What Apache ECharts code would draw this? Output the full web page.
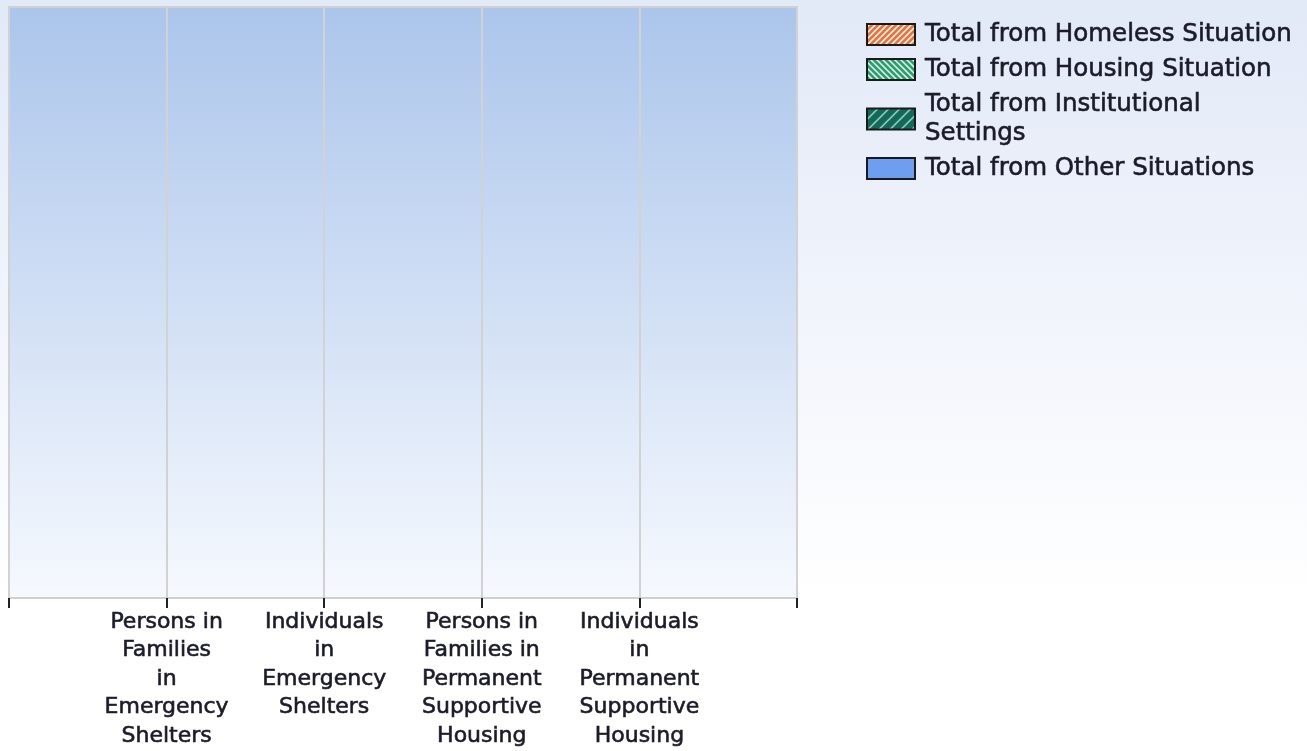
<!DOCTYPE html>
<html>
<head>
<meta charset="utf-8">
<title>Prior living situation</title>
<script src="https://cdn.jsdelivr.net/npm/echarts@6/dist/echarts.min.js"></script>
<style>
  html, body { margin: 0; padding: 0; }
  #chart { width: 1307px; height: 751px; }
</style>
</head>
<body>
<div id="chart"></div>
<script>
// categories (blank slots at both ends keep the wide margins of the original axis)
var categories = [
  '',
  'Persons in\nFamilies\nin\nEmergency\nShelters',
  'Individuals\nin\nEmergency\nShelters',
  'Persons in\nFamilies in\nPermanent\nSupportive\nHousing',
  'Individuals\nin\nPermanent\nSupportive\nHousing',
  ''
];
var seriesNames = [
  'Total from Homeless Situation',
  'Total from Housing Situation',
  'Total from Institutional Settings',
  'Total from Other Situations'
];
// all counts are zero in the picture
var homelessValues = ['-', 0, 0, 0, 0, '-'];
var housingValues = ['-', 0, 0, 0, 0, '-'];
var institutionalValues = ['-', 0, 0, 0, 0, '-'];
var otherValues = ['-', 0, 0, 0, 0, '-'];

// hatch fills
function hatch(bg, fg, step, lw, dir) {
  var c = document.createElement('canvas');
  c.width = step; c.height = step;
  var ctx = c.getContext('2d');
  ctx.fillStyle = bg;
  ctx.fillRect(0, 0, step, step);
  ctx.strokeStyle = fg;
  ctx.lineWidth = lw;
  ctx.beginPath();
  if (dir > 0) {
    ctx.moveTo(-step, step * 2); ctx.lineTo(step * 2, -step);
    ctx.moveTo(-step, step); ctx.lineTo(step, -step);
    ctx.moveTo(0, step * 2); ctx.lineTo(step * 2, 0);
  } else {
    ctx.moveTo(-step, -step); ctx.lineTo(step * 2, step * 2);
    ctx.moveTo(-step, 0); ctx.lineTo(step, step * 2);
    ctx.moveTo(0, -step); ctx.lineTo(step * 2, step);
  }
  ctx.stroke();
  return { image: c, repeat: 'repeat' };
}

var fills = [
  hatch('#ffffff', '#e8743c', 6, 2.8, 1),
  hatch('#ffffff', '#22a468', 6, 2.8, -1),
  hatch('#0f6a5a', '#d8eee8', 11, 1.2, 1),
  '#6e9ef0'
];
var valueSets = [homelessValues, housingValues, institutionalValues, otherValues];

var chart = echarts.init(document.getElementById('chart'));

var series = seriesNames.map(function (name, i) {
  return {
    name: name,
    type: 'bar',
    stack: 'total',
    barWidth: 60,
    itemStyle: { color: fills[i], borderWidth: 0 },
    data: valueSets[i]
  };
});

var textColor = '#1b1b2a';
var fontFamily = 'DejaVu Sans, Verdana, sans-serif';

chart.setOption({
  backgroundColor: {
    type: 'linear', x: 0, y: 0, x2: 0, y2: 1,
    colorStops: [
      { offset: 0, color: '#e2e9f7' },
      { offset: 0.8, color: '#ffffff' },
      { offset: 1, color: '#ffffff' }
    ]
  },
  animation: false,
  grid: {
    show: true,
    left: 9,
    top: 7,
    right: 510,
    bottom: 153,
    borderColor: '#d0d0d0',
    borderWidth: 2,
    backgroundColor: {
      type: 'linear', x: 0, y: 0, x2: 0, y2: 1,
      colorStops: [
        { offset: 0, color: '#abc5eb' },
        { offset: 1, color: '#f6f9fe' }
      ]
    }
  },
  legend: {
    orient: 'vertical',
    left: 866,
    top: 20,
    padding: 0,
    itemWidth: 48,
    itemHeight: 21,
    itemGap: 6,
    icon: 'rect',
    data: seriesNames,
    formatter: function (name) {
      return name === 'Total from Institutional Settings'
        ? 'Total from Institutional\nSettings' : name;
    },
    itemStyle: { borderColor: '#1a1a1a', borderWidth: 2 },
    textStyle: {
      color: textColor,
      fontFamily: fontFamily,
      fontSize: 24.5,
      lineHeight: 29,
      textBorderColor: textColor,
      textBorderWidth: 0.6,
      padding: [0, 0, 0, 5]
    }
  },
  xAxis: {
    type: 'category',
    data: categories,
    boundaryGap: false,
    axisLine: { lineStyle: { color: '#d0d0d0', width: 2 } },
    axisTick: { show: true, length: 10, lineStyle: { color: '#222', width: 2 } },
    splitLine: { show: true, lineStyle: { color: '#d2d2d2', width: 2 } },
    axisLabel: {
      interval: 0,
      margin: 10,
      color: textColor,
      fontFamily: fontFamily,
      fontSize: 22,
      lineHeight: 28.5,
      textBorderColor: textColor,
      textBorderWidth: 0.6,
      align: 'center'
    }
  },
  yAxis: {
    type: 'value',
    min: 0,
    max: 10,
    show: false,
    splitLine: { show: false }
  },
  series: series
});
</script>
</body>
</html>
